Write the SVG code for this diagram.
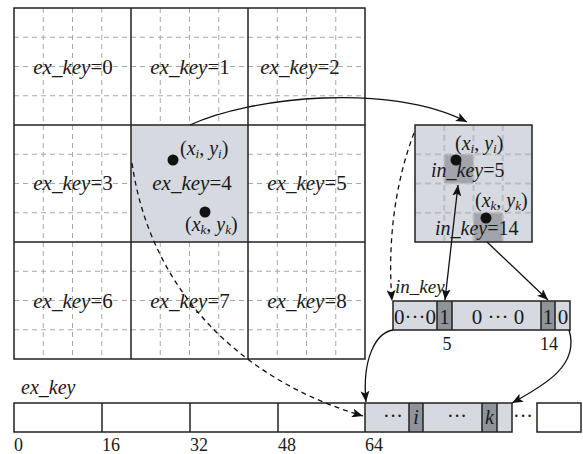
<svg xmlns="http://www.w3.org/2000/svg" width="583" height="454" viewBox="0 0 583 454">
<style>
.t{font-family:'Liberation Serif','DejaVu Serif',serif;font-size:20px;fill:#1a1a1a}
.big{font-size:21px}
.it{font-style:italic}
.s{font-size:13px;font-style:italic}
.sl{stroke:#222;stroke-width:1.5;fill:none}
.dg{stroke:#a8a8a8;stroke-width:1;stroke-dasharray:5 4;fill:none}
.di{stroke:#babdc3;stroke-width:2;stroke-dasharray:6 4;fill:none}
.lg{fill:#d6d9df}
.dk{fill:#8f949a}
.ds{fill:#a1a5ab}
.c{stroke:#111;stroke-width:1.3;fill:none}
.cd{stroke:#111;stroke-width:1.3;fill:none;stroke-dasharray:5 4}
</style>
<defs>
<marker id="ah" markerUnits="userSpaceOnUse" markerWidth="12" markerHeight="9" refX="11" refY="4.5" orient="auto-start-reverse" viewBox="0 0 12 9">
<path d="M0,0 L11,4.5 L0,9 L2.5,4.5 z" fill="#111"/>
</marker>
</defs>

<g id="grid">
<g class="dg">
<path d="M43.25,8V359M72.5,8V359M101.75,8V359M160.25,8V359M189.5,8V359M218.75,8V359M277.25,8V359M306.5,8V359M335.75,8V359"/>
<path d="M14,37.25H365M14,66.5H365M14,95.75H365M14,154.25H365M14,183.5H365M14,212.75H365M14,271.25H365M14,300.5H365M14,329.75H365"/>
</g>
<rect id="cell4fill" x="131" y="125" width="117" height="117" class="lg"/>
<path class="sl" d="M14,8H365V359H14Z M131,8V359 M248,8V359 M14,125H365 M14,242H365"/>
</g>

<g id="cell0"><text class="t big" x="73" y="74" text-anchor="middle"><tspan class="it">ex_key</tspan>=0</text></g>
<g id="cell1"><text class="t big" x="190" y="74" text-anchor="middle"><tspan class="it">ex_key</tspan>=1</text></g>
<g id="cell2"><text class="t big" x="300" y="74" text-anchor="middle"><tspan class="it">ex_key</tspan>=2</text></g>
<g id="cell3"><text class="t big" x="73" y="190" text-anchor="middle"><tspan class="it">ex_key</tspan>=3</text></g>
<g id="cell4">
<circle cx="173" cy="160" r="5.5" fill="#111"/>
<circle cx="205" cy="212" r="5.5" fill="#111"/>
<text class="t" x="180" y="155">(<tspan class="it">x</tspan><tspan class="s" dy="3">i</tspan><tspan dy="-3">, </tspan><tspan class="it">y</tspan><tspan class="s" dy="3">i</tspan><tspan dy="-3">)</tspan></text>
<text class="t big" x="192" y="190" text-anchor="middle"><tspan class="it">ex_key</tspan>=4</text>
<text class="t" x="185" y="231">(<tspan class="it">x</tspan><tspan class="s" dy="3">k</tspan><tspan dy="-3">, </tspan><tspan class="it">y</tspan><tspan class="s" dy="3">k</tspan><tspan dy="-3">)</tspan></text>
</g>
<g id="cell5"><text class="t big" x="307" y="190" text-anchor="middle"><tspan class="it">ex_key</tspan>=5</text></g>
<g id="cell6"><text class="t big" x="73" y="308" text-anchor="middle"><tspan class="it">ex_key</tspan>=6</text></g>
<g id="cell7"><text class="t big" x="190" y="308" text-anchor="middle"><tspan class="it">ex_key</tspan>=7</text></g>
<g id="cell8"><text class="t big" x="307" y="308" text-anchor="middle"><tspan class="it">ex_key</tspan>=8</text></g>

<g id="inset">
<rect x="415" y="125" width="117" height="117" class="lg"/>
<rect x="444.25" y="154.25" width="29.25" height="29.25" class="ds"/>
<rect x="473.5" y="212.75" width="29.25" height="29.25" class="ds"/>
<path class="di" d="M444.25,125V242M473.5,125V242M502.75,125V242M415,154.25H532M415,183.5H532M415,212.75H532"/>
<rect x="415" y="125" width="117" height="117" class="sl"/>
<circle cx="456" cy="160" r="5.5" fill="#111"/>
<circle cx="486" cy="218" r="5.5" fill="#111"/>
<text class="t" x="455" y="150">(<tspan class="it">x</tspan><tspan class="s" dy="3">i</tspan><tspan dy="-3">, </tspan><tspan class="it">y</tspan><tspan class="s" dy="3">i</tspan><tspan dy="-3">)</tspan></text>
<text class="t" x="431" y="177"><tspan class="it">in_key</tspan>=5</text>
<text class="t" x="475" y="207">(<tspan class="it">x</tspan><tspan class="s" dy="3">k</tspan><tspan dy="-3">, </tspan><tspan class="it">y</tspan><tspan class="s" dy="3">k</tspan><tspan dy="-3">)</tspan></text>
<text class="t" x="435" y="235"><tspan class="it">in_key</tspan>=14</text>
</g>

<g id="bitarray">
<text class="t it" x="395" y="293" style="font-size:19px">in_key</text>
<rect x="393" y="301" width="177" height="29" class="lg"/>
<rect x="437" y="301" width="15" height="29" class="dk"/>
<rect x="541" y="301" width="14" height="29" class="dk"/>
<path class="sl" d="M393,301H570V330H393Z M437,301V330 M452,301V330 M541,301V330 M555,301V330"/>
<text class="t big" x="415" y="324" text-anchor="middle">0···0</text>
<text class="t big" x="444.5" y="324" text-anchor="middle">1</text>
<text class="t big" x="498" y="324" text-anchor="middle">0 ··· 0</text>
<text class="t big" x="548" y="324" text-anchor="middle">1</text>
<text class="t big" x="563" y="324" text-anchor="middle">0</text>
<text class="t" x="447" y="350" text-anchor="middle" style="font-size:18px">5</text>
<text class="t" x="549" y="350" text-anchor="middle" style="font-size:18px">14</text>
</g>

<g id="exarray">
<text class="t it" x="21" y="394">ex_key</text>
<rect x="365" y="403" width="147" height="29" class="lg"/>
<rect x="409" y="403" width="14" height="29" class="dk"/>
<rect x="482" y="403" width="15" height="29" class="dk"/>
<path class="sl" d="M14,403H512V432H14Z M102,403V432 M190,403V432 M278,403V432 M365,403V432 M409,403V432 M423,403V432 M482,403V432 M497,403V432"/>
<rect x="537" y="403" width="44" height="29" class="sl"/>
<text class="t" x="393" y="423" text-anchor="middle">···</text>
<text class="t it" x="416" y="424" text-anchor="middle">i</text>
<text class="t" x="457" y="423" text-anchor="middle">···</text>
<text class="t it" x="489.5" y="424" text-anchor="middle">k</text>
<text class="t" x="523" y="423" text-anchor="middle">···</text>
<text class="t" x="14" y="451" style="font-size:18px">0</text>
<text class="t" x="102" y="451" style="font-size:18px">16</text>
<text class="t" x="190" y="451" style="font-size:18px">32</text>
<text class="t" x="278" y="451" style="font-size:18px">48</text>
<text class="t" x="365" y="451" style="font-size:18px">64</text>
</g>

<g id="connectors">
<path class="c" d="M190,125 C250,97 390,82 467,122" marker-end="url(#ah)"/>
<path class="cd" d="M132,163 C150,290 240,380 363,416" marker-end="url(#ah)"/>
<path class="cd" d="M414,133 C396,180 387,240 392,301" marker-end="url(#ah)"/>
<path class="c" d="M445,300 L458,185" marker-start="url(#ah)" marker-end="url(#ah)"/>
<path class="c" d="M487,242 L548,300" marker-end="url(#ah)"/>
<path class="c" d="M393,330 C375,333 362,360 366,402" marker-end="url(#ah)"/>
<path class="c" d="M569,330 C580,365 545,385 512,403" marker-end="url(#ah)"/>
</g>
</svg>
